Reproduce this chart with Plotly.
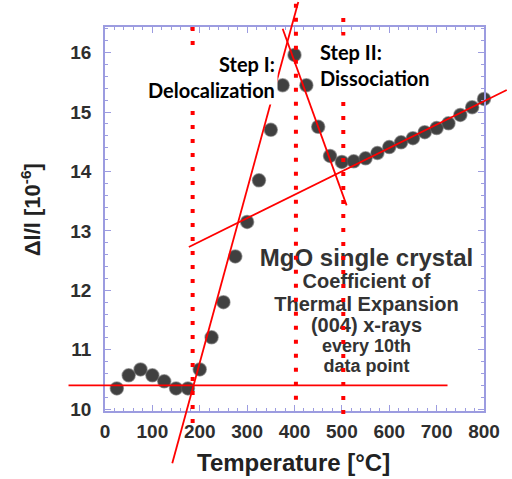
import plotly.graph_objects as go

# Thermal expansion of an MgO single crystal, every 10th data point
temperature_c = [25, 50, 75, 100, 125, 150, 175, 200, 225, 250, 275, 300,
                 325, 350, 375, 400, 425, 450, 475, 500, 525, 550, 575, 600,
                 625, 650, 675, 700, 725, 750, 775, 800]
dl_over_l = [10.35, 10.57, 10.67, 10.57, 10.47, 10.35, 10.35, 10.67, 11.21,
             11.80, 12.57, 13.15, 13.85, 14.70, 15.45, 15.96, 15.45, 14.75,
             14.26, 14.16, 14.17, 14.22, 14.31, 14.41, 14.49, 14.56, 14.66,
             14.73, 14.81, 14.95, 15.08, 15.22]

# Straight-line guides (start/end in data units)
guide_x = [[-77, 723], [142, 408], [375, 510], [177, 848]]
guide_y = [[10.40, 10.40], [9.09, 16.85], [16.40, 13.43], [12.73, 15.37]]

# Dotted markers for the transition temperatures
step_temps = [185, 403, 503]
step_top = [16.43, 16.82, 16.58]
step_bottom = [9.76, 10.06, 9.89]

x_ticks = [0, 100, 200, 300, 400, 500, 600, 700, 800]
y_ticks = [10, 11, 12, 13, 14, 15, 16]

X_RANGE = [0, 800]
Y_RANGE = [9.97, 16.43]

info_lines = ["MgO single crystal", "Coefficient of", "Thermal Expansion",
              "(004) x-rays", "every 10th", "data point"]
info_sizes = [24, 20, 20, 20, 18, 18]
info_y = [12.51, 12.12, 11.73, 11.38, 11.04, 10.71]
info_x = 552


def xd(v):
    return (v - X_RANGE[0]) / (X_RANGE[1] - X_RANGE[0])


def yd(v):
    return (v - Y_RANGE[0]) / (Y_RANGE[1] - Y_RANGE[0])


fig = go.Figure()

fig.add_trace(go.Scatter(
    x=[info_x] * len(info_lines), y=info_y, text=info_lines, mode="text",
    textposition="middle center",
    textfont=dict(family="Liberation Sans", size=info_sizes, color="#333333",
                  weight="bold"),
    hoverinfo="skip", showlegend=False, cliponaxis=False,
))

fig.add_trace(go.Scatter(
    x=temperature_c, y=dl_over_l, mode="markers",
    marker=dict(size=13, color="#404040",
                line=dict(color="rgba(90,90,90,0.55)", width=1.5)),
    showlegend=False, cliponaxis=False,
))

shapes = []
for xs, ys in zip(guide_x, guide_y):
    shapes.append(dict(type="line", xref="x domain", yref="y domain",
                       x0=xd(xs[0]), x1=xd(xs[1]), y0=yd(ys[0]), y1=yd(ys[1]),
                       line=dict(color="#ff0000", width=1.8), layer="above"))
for t, top, bot in zip(step_temps, step_top, step_bottom):
    shapes.append(dict(type="line", xref="x domain", yref="y domain",
                       x0=xd(t), x1=xd(t), y0=yd(top), y1=yd(bot),
                       line=dict(color="#ff0000", width=4, dash="4px,10px"),
                       layer="above"))

axis_common = dict(
    showline=True, linecolor="#9c9ce0", linewidth=1.5, mirror="ticks",
    ticks="inside", ticklen=6, tickcolor="#9c9ce0", tickwidth=1.2,
    showgrid=False, zeroline=False,
    tickfont=dict(family="Liberation Sans", size=19, color="#2e2e2e",
                  weight="bold"),
)

fig.update_layout(
    width=512, height=479,
    margin=dict(l=105, r=23, t=27, b=68),
    paper_bgcolor="white", plot_bgcolor="white",
    shapes=shapes,
    xaxis=dict(range=X_RANGE, tickvals=x_ticks, ticklabelstandoff=2,
               minor=dict(dtick=20, ticks="inside", ticklen=3,
                          tickcolor="#9c9ce0"),
               **axis_common),
    yaxis=dict(range=Y_RANGE, tickvals=y_ticks, ticklabelstandoff=8,
               minor=dict(dtick=0.2, ticks="inside", ticklen=3,
                          tickcolor="#9c9ce0"),
               **axis_common),
    annotations=[
        dict(text="Temperature [°C]", xref="paper", yref="paper",
             x=0.497, y=-0.133, xanchor="center", yanchor="middle",
             showarrow=False,
             font=dict(family="Liberation Sans", size=24, color="#222",
                       weight="bold")),
        dict(text="Δl/l [10<sup>-6</sup>]", xref="paper", yref="paper",
             x=-0.195, y=0.523, xanchor="center", yanchor="middle",
             textangle=-90, showarrow=False,
             font=dict(family="Liberation Sans", size=22, color="#222",
                       weight="bold")),
        dict(text="Step I:<br>Delocalization", xref="paper", yref="paper",
             x=0.4557, y=0.871, xanchor="right", yanchor="middle",
             align="right", showarrow=False, bgcolor="white", borderpad=2,
             font=dict(family="Lato", size=20, color="black", weight="bold")),
        dict(text="Step II:<br>Dissociation", xref="paper", yref="paper",
             x=0.555, y=0.902, xanchor="left", yanchor="middle",
             align="left", showarrow=False, bgcolor="white", borderpad=4,
             font=dict(family="Lato", size=20, color="black", weight="bold")),
    ],
)

fig.write_html("out.html")
